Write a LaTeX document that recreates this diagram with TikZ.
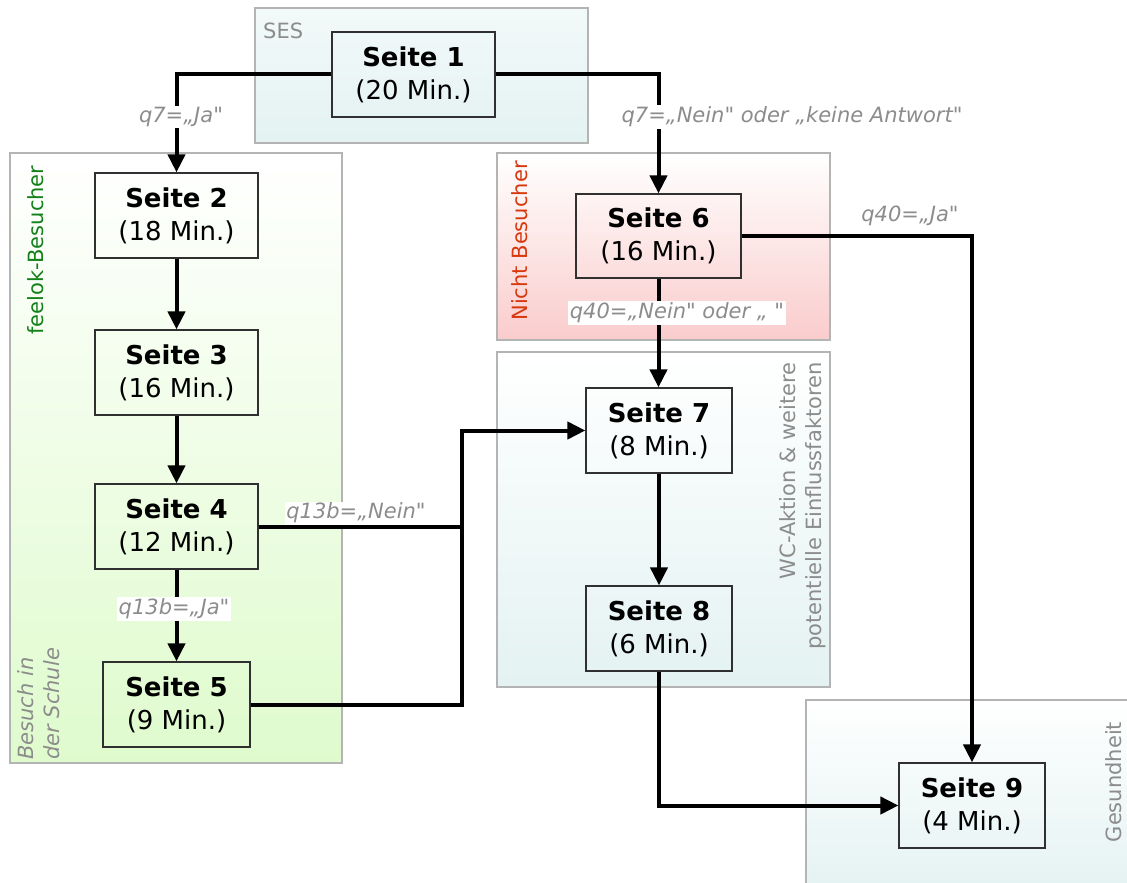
\documentclass[tikz,border=0pt]{standalone}
\usepackage{fontspec}
\setmainfont{DejaVu Sans}[Ligatures=TeXOff]
\usetikzlibrary{arrows.meta}
\definecolor{grpborder}{HTML}{B4B4B4}
\definecolor{lblgray}{HTML}{8C8C8C}
\definecolor{feelgreen}{HTML}{13801A}
\definecolor{nichtred}{HTML}{D8380E}
\definecolor{cyanlo}{HTML}{E4F2F2}
\definecolor{cyanhi}{HTML}{F2F9F9}
\definecolor{greenlo}{HTML}{DFFBCD}
\definecolor{pinklo}{HTML}{FACCCC}
\definecolor{boxline}{HTML}{303030}
\tikzset{
  grp/.style={draw=grpborder, line width=1.4pt},
  pagebox/.style={draw=boxline, line width=1.2pt, minimum height=85pt, align=center,
    font=\fontsize{26}{33}\selectfont, inner sep=0pt},
  conn/.style={line width=4pt, -{Triangle[length=18pt,width=17pt]}},
  plain/.style={line width=4pt},
  cond/.style={text=lblgray, font=\fontsize{21}{24}\selectfont\itshape, inner sep=1.5pt},
  condw/.style={cond, fill=white},
  grplbl/.style={text=lblgray, font=\fontsize{21}{25}\selectfont, inner sep=0pt}
}
\begin{document}
\begin{tikzpicture}[x=1pt, y=-1pt]
\useasboundingbox (0,0) rectangle (1127,883);
% groups
\path[grp, top color=cyanhi, bottom color=cyanlo] (255,8) rectangle (588,143);
\path[grp, top color=white, bottom color=greenlo] (10,153) rectangle (342,763);
\path[grp, top color=white, bottom color=pinklo] (497,153) rectangle (830,340);
\path[grp, top color=white, bottom color=cyanlo] (497,352) rectangle (830,687);
\path[grp, top color=white, bottom color=cyanlo] (806,700) rectangle (1140,895);
% group labels
\node[grplbl, anchor=west] (lses) at (263,31) {SES};
\node[grplbl, text=feelgreen, rotate=90] (lfeel) at (36,250) {feelok-Besucher};
\node[grplbl, font=\fontsize{21}{26}\selectfont\itshape, rotate=90, align=left, anchor=west] (lschule) at (39,760) {Besuch in\\der Schule};
\node[grplbl, text=nichtred, rotate=90] (lnicht) at (520,241) {Nicht Besucher};
\node[grplbl, rotate=90, align=right, anchor=east, font=\fontsize{21}{26}\selectfont] (lwc) at (803,362) {WC-Aktion \& weitere\\potentielle Einflussfaktoren};
\node[grplbl, rotate=90] (lges) at (1114,782) {Gesundheit};
% pages
\node[pagebox, minimum width=163pt] (s1) at (413.5,74.5) {\textbf{Seite 1}\\(20 Min.)};
\node[pagebox, minimum width=163pt] (s2) at (176.5,215.5) {\textbf{Seite 2}\\(18 Min.)};
\node[pagebox, minimum width=163pt] (s3) at (176.5,372.5) {\textbf{Seite 3}\\(16 Min.)};
\node[pagebox, minimum width=163pt] (s4) at (176.5,526.5) {\textbf{Seite 4}\\(12 Min.)};
\node[pagebox, minimum width=147pt] (s5) at (176.5,704.5) {\textbf{Seite 5}\\(9 Min.)};
\node[pagebox, minimum width=165pt, minimum height=84pt] (s6) at (658.5,236) {\textbf{Seite 6}\\(16 Min.)};
\node[pagebox, minimum width=146pt] (s7) at (659,430.5) {\textbf{Seite 7}\\(8 Min.)};
\node[pagebox, minimum width=146pt] (s8) at (659,628.5) {\textbf{Seite 8}\\(6 Min.)};
\node[pagebox, minimum width=146pt] (s9) at (972,805.5) {\textbf{Seite 9}\\(4 Min.)};
% connectors
\coordinate (j) at (462,526.5);
\draw[conn] (s1.west) -| (s2.north);
\draw[conn] (s1.east) -| (s6.north);
\draw[conn] (s2) -- (s3);
\draw[conn] (s3) -- (s4);
\draw[conn] (s4) -- (s5);
\draw[conn] (s4.east) -- (j) |- (s7.west);
\draw[plain] (s5.east) -| (j);
\draw[conn] (s6.south) -- (s6.south |- s7.north);
\draw[conn] (s6.east) -| (s9.north);
\draw[conn] (s7) -- (s8);
\draw[conn] (s8.south) |- (s9.west);
% condition labels
\node[condw] (c1) at (181,117) {q7=„Ja"};
\node[condw] (c2) at (792,117) {q7=„Nein" oder „keine Antwort"};
\node[condw] (c3) at (174,609) {q13b=„Ja"};
\node[condw, anchor=south] (c4) at (356,525) {q13b=„Nein"};
\node[condw] (c5) at (677,313) {q40=„Nein" oder „ "};
\node[cond] (c6) at (910,216) {q40=„Ja"};
\end{tikzpicture}
\end{document}
